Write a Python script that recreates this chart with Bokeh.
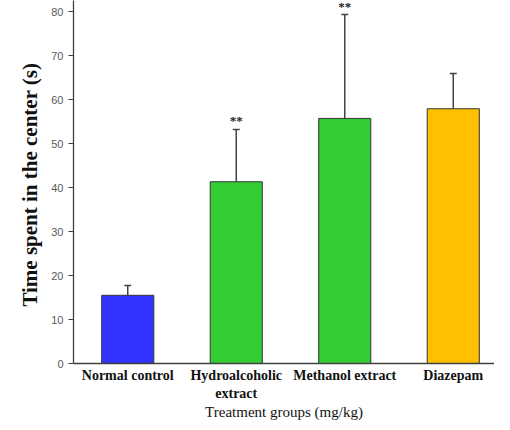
from bokeh.plotting import figure
from bokeh.models import ColumnDataSource, Whisker, FixedTicker, Range1d
from bokeh.core.properties import value
from bokeh.embed import file_html
from bokeh.resources import INLINE

groups = ["Normal control", "Hydroalcoholic\nextract", "Methanol extract", "Diazepam"]
means = [15.5, 41.3, 55.7, 57.9]
errors = [2.2, 11.9, 23.6, 8.0]
colors = ["#3333FF", "#33CC33", "#33CC33", "#FFC000"]
stars = ["", "**", "**", ""]
y_ticks = [0, 10, 20, 30, 40, 50, 60, 70, 80]

xs = list(range(len(groups)))
upper = [m + e for m, e in zip(means, errors)]
src = ColumnDataSource(dict(x=xs, top=means, upper=upper, color=colors, star=stars))

p = figure(width=494, height=422, output_backend="svg", toolbar_location=None,
           x_range=Range1d(-0.5, 3.38), y_range=Range1d(0, 82.5),
           min_border_left=73, min_border_right=0, min_border_top=0, min_border_bottom=51)
p.outline_line_color = None
p.grid.visible = False

p.vbar(x="x", top="top", width=0.48, bottom=0, source=src, fill_color="color",
       line_color="#333333", line_width=1)

w = Whisker(base="x", lower="top", upper="upper", source=src, dimension="height",
            line_color="#444444", line_width=1.5, lower_head=None)
w.upper_head.size = 7
w.upper_head.line_color = "#444444"
w.upper_head.line_width = 1.5
p.add_layout(w)

p.text(x="x", y="upper", text="star", source=src, text_align="center",
       text_baseline="bottom", y_offset=-1, text_font=value("Liberation Serif"),
       text_font_style="bold", text_font_size="13px", text_color="#222222")

# y axis
ya = p.yaxis[0]
ya.ticker = FixedTicker(ticks=y_ticks)
ya.axis_label = "Time spent in the center  (s)"
ya.axis_label_text_font = "Liberation Serif"
ya.axis_label_text_font_style = "bold"
ya.axis_label_text_font_size = "21px"
ya.axis_label_text_color = "#111111"
ya.axis_label_standoff = 6
ya.major_label_text_font = "Liberation Sans"
ya.major_label_text_font_size = "11px"
ya.major_label_text_color = "#595959"
ya.major_tick_out = 5
ya.major_tick_in = 0
ya.minor_tick_line_color = None
ya.minor_tick_out = 0
ya.minor_tick_in = 0
ya.axis_line_color = "#404040"
ya.major_tick_line_color = "#404040"
ya.axis_line_width = 1.3

# x axis
xa = p.xaxis[0]
xa.ticker = FixedTicker(ticks=xs)
xa.major_label_overrides = {i: g for i, g in zip(xs, groups)}
xa.major_label_text_font = "Liberation Serif"
xa.major_label_text_font_style = "bold"
xa.major_label_text_font_size = "14px"
xa.major_label_text_color = "#111111"
xa.major_label_standoff = 4
xa.major_label_text_line_height = 1.2
xa.major_tick_line_color = None
xa.minor_tick_line_color = None
xa.major_tick_out = 0
xa.major_tick_in = 0
xa.minor_tick_out = 0
xa.minor_tick_in = 0
xa.axis_line_color = "#404040"
xa.axis_line_width = 1.3
xa.axis_label = "Treatment groups (mg/kg)"
xa.axis_label_text_font = "Liberation Serif"
xa.axis_label_text_font_style = "normal"
xa.axis_label_text_font_size = "15px"
xa.axis_label_text_line_height = 0.9
xa.axis_label_text_color = "#111111"
xa.axis_label_standoff = 0

open("out.html", "w").write(file_html(p, INLINE))
